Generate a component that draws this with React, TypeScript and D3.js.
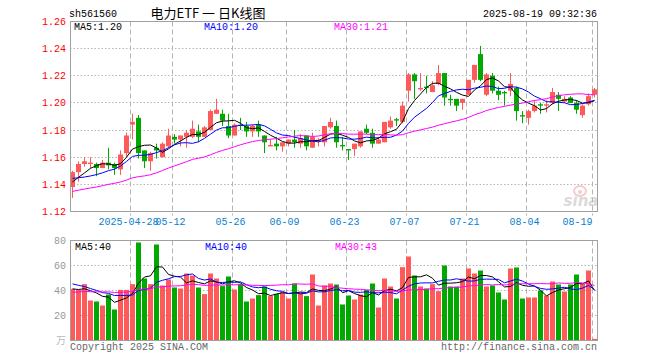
import React from 'react';
import * as d3 from 'd3';

const dates = [
  "04-14","04-15","04-16","04-17","04-18","04-21","04-22","04-23","04-24","04-25",
  "04-28","04-29","04-30","05-06","05-07","05-08","05-09","05-12","05-13","05-14",
  "05-15","05-16","05-19","05-20","05-21","05-22","05-23","05-26","05-27","05-28",
  "05-29","05-30","06-03","06-04","06-05","06-06","06-09","06-10","06-11","06-12",
  "06-13","06-16","06-17","06-18","06-19","06-20","06-23","06-24","06-25","06-26",
  "06-27","06-30","07-01","07-02","07-03","07-04","07-07","07-08","07-09","07-10",
  "07-11","07-14","07-15","07-16","07-17","07-18","07-21","07-22","07-23","07-24",
  "07-25","07-28","07-29","07-30","07-31","08-01","08-04","08-05","08-06","08-07",
  "08-08","08-11","08-12","08-13","08-14","08-15","08-18","08-19"
];

const opens = [
  1.138,1.149,1.155,1.155,1.155,1.152,1.156,1.155,1.151,1.163,
  1.184,1.189,1.165,1.157,1.167,1.160,1.168,1.175,1.173,1.175,
  1.175,1.179,1.175,1.180,1.192,1.192,1.183,1.176,1.184,1.183,
  1.179,1.184,1.176,1.168,1.170,1.168,1.170,1.173,1.170,1.176,
  1.167,1.172,1.171,1.182,1.183,1.169,1.166,1.166,1.168,1.181,
  1.178,1.170,1.171,1.182,1.188,1.186,1.209,1.221,1.210,1.212,
  1.208,1.214,1.222,1.203,1.203,1.200,1.206,1.217,1.236,1.206,
  1.220,1.209,1.208,1.209,1.211,1.191,1.189,1.194,1.199,1.198,
  1.200,1.206,1.201,1.204,1.200,1.191,1.199,1.206
];
const highs = [
  1.150,1.157,1.160,1.160,1.156,1.158,1.167,1.156,1.165,1.178,
  1.192,1.191,1.165,1.164,1.170,1.171,1.181,1.177,1.176,1.180,
  1.187,1.184,1.183,1.195,1.203,1.195,1.192,1.185,1.189,1.186,
  1.184,1.187,1.176,1.173,1.175,1.171,1.173,1.180,1.177,1.176,
  1.178,1.174,1.183,1.189,1.187,1.175,1.166,1.170,1.179,1.184,
  1.181,1.175,1.186,1.190,1.189,1.201,1.222,1.222,1.222,1.220,
  1.216,1.228,1.222,1.206,1.203,1.203,1.217,1.228,1.242,1.222,
  1.222,1.212,1.209,1.222,1.212,1.194,1.195,1.202,1.200,1.202,
  1.211,1.208,1.205,1.205,1.202,1.199,1.207,1.211
];
const lows = [
  1.130,1.142,1.153,1.152,1.146,1.152,1.151,1.147,1.147,1.160,
  1.173,1.159,1.152,1.150,1.159,1.160,1.167,1.170,1.168,1.167,
  1.174,1.171,1.175,1.180,1.192,1.183,1.174,1.176,1.180,1.175,
  1.175,1.175,1.163,1.168,1.165,1.164,1.168,1.167,1.167,1.165,
  1.167,1.168,1.168,1.181,1.167,1.165,1.158,1.161,1.167,1.177,
  1.167,1.170,1.171,1.181,1.183,1.185,1.201,1.203,1.209,1.207,
  1.208,1.213,1.198,1.198,1.194,1.195,1.206,1.215,1.216,1.205,
  1.207,1.202,1.198,1.205,1.187,1.185,1.184,1.193,1.192,1.193,
  1.199,1.194,1.200,1.200,1.192,1.189,1.198,1.204
];
const closes = [
  1.149,1.155,1.157,1.156,1.152,1.156,1.154,1.152,1.162,1.176,
  1.186,1.163,1.157,1.163,1.165,1.170,1.176,1.173,1.176,1.178,
  1.181,1.175,1.182,1.194,1.195,1.187,1.176,1.184,1.183,1.179,
  1.183,1.179,1.171,1.169,1.168,1.171,1.173,1.171,1.174,1.168,
  1.175,1.173,1.183,1.186,1.171,1.168,1.165,1.170,1.179,1.178,
  1.170,1.173,1.186,1.187,1.187,1.198,1.221,1.216,1.211,1.211,
  1.213,1.222,1.204,1.202,1.198,1.203,1.217,1.228,1.217,1.221,
  1.209,1.206,1.207,1.214,1.194,1.190,1.194,1.198,1.198,1.199,
  1.208,1.203,1.203,1.200,1.195,1.198,1.205,1.210
];
const volumes = [
  41.3,40.5,45.1,32,31.2,28,36.8,24.8,40.5,40.5,
  45.1,78.4,49.6,45.1,76.8,44,48.8,42.4,41.6,53.6,
  52,42.4,37.1,53.6,49.6,43.5,51.2,40.8,45.3,31.2,
  33.6,36.3,43.2,35.5,37.3,38.7,33.6,45.6,38.7,35.5,
  52.8,28,44,45.6,44.8,28.8,36,32.8,36.8,40.5,
  45.6,26.4,49.6,43.2,33.6,58.7,67.2,52,43.2,41.6,
  45.1,39.5,60,43.2,43.2,49.6,57.6,53.6,56,43.2,
  44,38.4,32.8,57.6,58.4,33.6,34.4,34.4,40,36,
  47.2,44.8,39.2,44.8,52.8,45.3,56,1.3
];

// sessions before the visible window (needed for the moving averages)
const priorCloses = [
  1.128,1.131,1.133,1.130,1.127,1.125,1.129,1.132,1.134,1.136,
  1.138,1.140,1.137,1.124,1.118,1.122,1.126,1.129,1.131,1.130,
  1.150,1.152,1.148,1.142,1.143,1.138,1.141,1.139,1.142
];
const priorVolumes = [
  36,34,38,33,31,35,40,37,34,30,
  32,36,39,41,35,33,38,36,34,36,
  52,55,48,46,45.5,43,42,40,40.2
];

const tickDates = ["04-28","05-12","05-26","06-09","06-23","07-07","07-21","08-04","08-19"];
const tickLabels = ["2025-04-28","05-12","05-26","06-09","06-23","07-07","07-21","08-04","08-19"];
const priceTicks = [1.12,1.14,1.16,1.18,1.20,1.22,1.24,1.26];
const volTicks = [20,40,60,80];
const priceMALabels = ["MA5:1.20","MA10:1.20","MA30:1.21"];
const volMALabels = ["MA5:40","MA10:40","MA30:43"];
const maPeriods = [5,10,30];
const maColors = ["#000000","#0000ff","#ff00ff"];

const UP = "#ff5a5a";
const DOWN = "#00a800";
const GRID = "#b4b4b4";
const BORDER = "#a0a0a0";
const MONO = "'Liberation Mono', 'DejaVu Sans Mono', monospace";

function movingAvg(prior: number[], vals: number[], n: number): number[] {
  const all = prior.concat(vals);
  return vals.map((_, i) => {
    const end = prior.length + i;
    return d3.mean(all.slice(end - n + 1, end + 1)) as number;
  });
}

export default function App() {
  const L = 70, R = 597.5;
  const pTop = 21.5, pBot = 211.5;
  const vTop = 240.5, vBot = 340.5;

  const x = d3.scaleLinear().domain([0, dates.length]).range([70, 70 + 6 * dates.length]);
  const cx = (i: number) => x(i) + 2.5;
  const y = d3.scaleLinear().domain([1.12, 1.26]).range([pBot, pTop]);
  const vy = d3.scaleLinear().domain([0, 80]).range([vBot, vTop]);

  const priceMAs = maPeriods.map(n => movingAvg(priorCloses, closes, n));
  const volMAs = maPeriods.map(n => movingAvg(priorVolumes, volumes, n));

  const pLine = d3.line<number>().x((_, i) => cx(i)).y(d => y(d));
  const vLine = d3.line<number>().x((_, i) => cx(i)).y(d => vy(d));

  const tickIdx = tickDates.map(d => dates.indexOf(d));
  const crisp = (v: number) => Math.round(v - 0.5) + 0.5;

  return (
    <svg width={660} height={360} style={{ position: 'absolute', left: 0, top: 0, background: '#fff' }}
      fontFamily={MONO}>
      <rect x={0} y={0} width={660} height={360} fill="#fff" />
      {/* header */}
      <text x={69} y={17} fontSize={10} fill="#000">sh561560</text>
      <text x={208} y={18} fontSize={13} textAnchor="middle" fill="#000"
        fontFamily="'Noto Sans CJK SC', sans-serif">电力ETF 一 日K线图</text>
      <text x={597} y={17} fontSize={10} textAnchor="end" fill="#000">2025-08-19 09:32:36</text>

      {/* price grid */}
      {priceTicks.slice(1, -1).map(t => (
        <line key={'pg' + t} x1={L} x2={R} y1={crisp(y(t))} y2={crisp(y(t))}
          stroke={GRID} strokeDasharray="1.5,2" />
      ))}
      {tickIdx.map((ti, k) => (
        <g key={'vg' + k}>
          <line x1={x(ti) + 0.5} x2={x(ti) + 0.5} y1={pTop} y2={pBot + 4} stroke={GRID} strokeDasharray="5,3" />
          <line x1={x(ti) + 0.5} x2={x(ti) + 0.5} y1={vTop} y2={vBot} stroke={GRID} strokeDasharray="5,3" />
        </g>
      ))}
      {volTicks.slice(0, -1).map(t => (
        <line key={'vgl' + t} x1={L} x2={R} y1={crisp(vy(t))} y2={crisp(vy(t))}
          stroke={GRID} strokeDasharray="1.5,2" />
      ))}

      {/* watermark */}
      <g opacity={0.55}>
        <ellipse cx={580} cy={191} rx={6} ry={5} fill="none" stroke="#f0a0a0" strokeWidth={2} />
        <circle cx={580} cy={192} r={2} fill="#f0a0a0" />
        <text x={581} y={206} fontSize={15} fontWeight="bold" fontStyle="italic" textAnchor="middle"
          fill="#bdbdbd" fontFamily="'DejaVu Sans', sans-serif">sina</text>
      </g>

      {/* candles */}
      {closes.map((c, i) => {
        const o = opens[i];
        const up = c >= o;
        const col = up ? UP : DOWN;
        const top = y(Math.max(o, c));
        const h = Math.max(1, Math.abs(y(o) - y(c)));
        return (
          <g key={'c' + i}>
            <line x1={cx(i)} x2={cx(i)} y1={y(highs[i])} y2={y(lows[i])} stroke={col} strokeWidth={1} />
            <rect x={x(i)} y={top} width={5} height={h} fill={col} />
          </g>
        );
      })}
      {priceMAs.map((ma, k) => (
        <path key={'pma' + k} d={pLine(ma) || ''} fill="none" stroke={maColors[k]} strokeWidth={1} />
      ))}

      {/* volume bars */}
      {volumes.map((v, i) => (
        <rect key={'v' + i} x={x(i)} y={vy(v)} width={5} height={vBot - vy(v)}
          fill={closes[i] >= opens[i] ? UP : DOWN} />
      ))}
      {volMAs.map((ma, k) => (
        <path key={'vma' + k} d={vLine(ma) || ''} fill="none" stroke={maColors[k]} strokeWidth={1} />
      ))}

      {/* borders */}
      <rect x={L + 0.5} y={pTop} width={R - L - 0.5} height={pBot - pTop} fill="none" stroke={BORDER} />
      <rect x={L + 0.5} y={vTop} width={R - L - 0.5} height={vBot - vTop} fill="none" stroke={BORDER} />

      {/* axis labels */}
      {priceTicks.map(t => (
        <text key={'pl' + t} x={66} y={y(t) + 3.5} fontSize={10} textAnchor="end" fill="#ff0000">
          {t.toFixed(2)}
        </text>
      ))}
      {volTicks.map(t => (
        <text key={'vl' + t} x={66} y={vy(t) + 3.5} fontSize={10} textAnchor="end" fill="#999">{t}</text>
      ))}
      <text x={66} y={344} fontSize={10} textAnchor="end" fill="#bbb"
        fontFamily="'Noto Sans CJK SC', sans-serif">万</text>

      {tickIdx.map((ti, k) => (
        <text key={'xl' + k} x={k === tickIdx.length - 1 ? x(ti) + 0.5 : x(ti) - 1.5} y={225}
          fontSize={10} textAnchor={k === tickIdx.length - 1 ? 'end' : 'middle'} fill="#0a7fd0">
          {tickLabels[k]}
        </text>
      ))}

      {/* MA legends */}
      {priceMALabels.map((s, k) => (
        <text key={'pml' + k} x={[74, 204, 334][k]} y={30} fontSize={10} fill={maColors[k]}>{s}</text>
      ))}
      {volMALabels.map((s, k) => (
        <text key={'vml' + k} x={[75, 205, 335][k]} y={250} fontSize={10} fill={maColors[k]}>{s}</text>
      ))}

      <text x={70} y={350} fontSize={10} fill="#666">Copyright 2025 SINA.COM</text>
      <text x={597} y={350} fontSize={10} textAnchor="end" fill="#666">http://finance.sina.com.cn</text>
    </svg>
  );
}
